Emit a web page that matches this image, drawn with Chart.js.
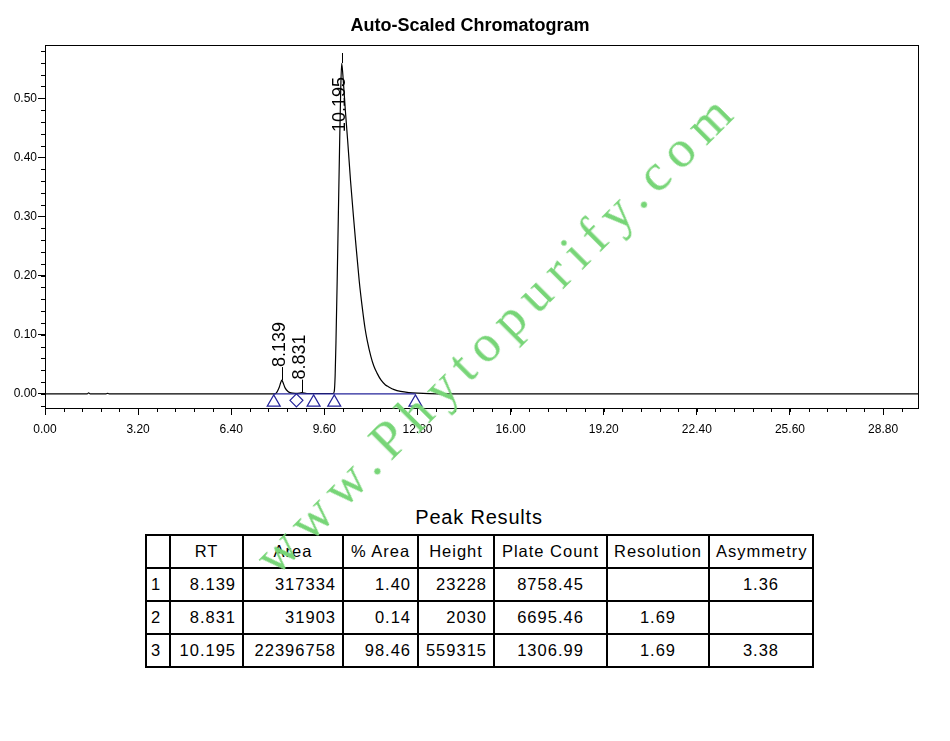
<!DOCTYPE html>
<html>
<head>
<meta charset="utf-8">
<script src="https://cdn.jsdelivr.net/npm/chart.js@4.4.1/dist/chart.umd.min.js"></script>
<style>
  body { margin: 0; background: #fff; width: 950px; height: 741px; position: relative; overflow: hidden; font-family: "Liberation Sans", Arial, sans-serif; color: #000; }
  #wrap { position: absolute; left: 0; top: 0; width: 950px; height: 450px; }
  #chartTitle { position: absolute; left: 0; width: 940px; top: 15px; text-align: center; font-size: 18px; font-weight: bold; }
  #tableTitle { position: absolute; left: 0; width: 958px; top: 506px; text-align: center; font-size: 20px; letter-spacing: 0.8px; }
  #peaks { position: absolute; left: 145px; top: 534px; border-collapse: collapse; table-layout: fixed; width: 667px; font-size: 16.5px; letter-spacing: 1px; }
  #peaks td, #peaks th { border: 2px solid #000; padding: 0 6px; height: 31px; font-weight: normal; white-space: nowrap; overflow: hidden; }
  #peaks th { text-align: center; }
  #peaks td.r { text-align: right; }
  #peaks td.c { text-align: center; }
  #peaks td.l { text-align: left; padding-left: 4px; }
  #watermark { position: absolute; left: 496px; top: 331px; transform: translate(-50%, -50%) rotate(-45deg); font-family: "Liberation Serif", "DejaVu Serif", serif; font-size: 53px; letter-spacing: 9.5px; color: #77d577; white-space: nowrap; pointer-events: none; }
</style>
</head>
<body>
<div id="wrap"><canvas id="chrom" width="950" height="450"></canvas></div>
<div id="chartTitle">Auto-Scaled Chromatogram</div>
<div id="tableTitle">Peak Results</div>
<table id="peaks">
  <colgroup>
    <col style="width:24px"><col style="width:73px"><col style="width:100px"><col style="width:75px">
    <col style="width:76px"><col style="width:113px"><col style="width:102px"><col style="width:104px">
  </colgroup>
  <thead><tr id="headRow"></tr></thead>
  <tbody id="peakBody"></tbody>
</table>
<div id="watermark">www.Phytopurify.com</div>

<script>
// chromatogram trace (minutes / AU)
const timeMin = [0, 1.45, 1.5, 1.55, 2.1, 2.15, 2.2,
  7.9, 7.97, 8.05, 8.1, 8.139, 8.18, 8.25, 8.35, 8.45, 8.6, 8.75, 8.831, 8.9, 9.0,
  9.9, 9.94, 9.97, 10.0, 10.04, 10.08, 10.12, 10.16, 10.195,
  10.25, 10.32, 10.4, 10.5, 10.6, 10.67, 10.8, 10.9, 11.0, 11.07,
  11.2, 11.3, 11.41, 11.55, 11.7, 11.8, 12.0, 12.22, 12.5, 12.8,
  13.5, 30];
const absAU = [0, 0, 0.0015, 0, 0, 0.0008, 0,
  0, 0.003, 0.011, 0.019, 0.0232, 0.019, 0.010, 0.004, 0.0015, 0.0008, 0.0012, 0.002, 0.0012, 0.0005,
  0.0005, 0.004, 0.03, 0.09, 0.19, 0.30, 0.41, 0.51, 0.559,
  0.53, 0.48, 0.429, 0.36, 0.30, 0.26, 0.19, 0.147, 0.11, 0.091,
  0.063, 0.047, 0.035, 0.023, 0.015, 0.012, 0.007, 0.004, 0.002, 0.001,
  0, 0];

// integration marks
const baselineRt = [7.86, 12.73];
const triangleRt = [7.86, 9.23, 9.94, 12.73];
const diamondRt = [8.64];

// peak table
const tableHead = ['', 'RT', 'Area', '% Area', 'Height', 'Plate Count', 'Resolution', 'Asymmetry'];
const peakNo = ['1', '2', '3'];
const peakRt = ['8.139', '8.831', '10.195'];
const peakArea = ['317334', '31903', '22396758'];
const pctArea = ['1.40', '0.14', '98.46'];
const peakHeight = ['23228', '2030', '559315'];
const plateCount = ['8758.45', '6695.46', '1306.99'];
const resolution = ['', '1.69', '1.69'];
const asymmetry = ['1.36', '', '3.38'];

// axes
const xMin = 0, xMax = 30, xStep = 3.2, xMinor = 0.64;
const yMin = -0.024, yMax = 0.59, yStep = 0.1, yMinor = 0.02;

// build table
const headRow = document.getElementById('headRow');
tableHead.forEach(h => {
  const th = document.createElement('th');
  th.textContent = h;
  headRow.appendChild(th);
});
const body = document.getElementById('peakBody');
peakNo.forEach((n, i) => {
  const tr = document.createElement('tr');
  const cells = [[n, 'l'], [peakRt[i], 'r'], [peakArea[i], 'r'], [pctArea[i], 'r'], [peakHeight[i], 'r'],
    [plateCount[i], 'c'], [resolution[i], 'c'], [asymmetry[i], 'c']];
  cells.forEach(([txt, cls]) => {
    const td = document.createElement('td');
    td.className = cls;
    td.textContent = txt;
    tr.appendChild(td);
  });
  body.appendChild(tr);
});

const navy = '#24249a';

const chromPlugin = {
  id: 'chromExtras',
  afterDatasetsDraw(chart) {
    const ctx = chart.ctx;
    const a = chart.chartArea;
    const xs = chart.scales.x, ys = chart.scales.y;
    ctx.save();
    // frame
    ctx.strokeStyle = '#000';
    ctx.lineWidth = 1;
    ctx.strokeRect(Math.round(a.left) + 0.5, Math.round(a.top) + 0.5, Math.round(a.right - a.left), Math.round(a.bottom - a.top));
    // minor ticks
    ctx.beginPath();
    for (let i = 0; xMin + i * xMinor <= xMax; i++) {
      const px = Math.round(xs.getPixelForValue(xMin + i * xMinor)) + 0.5;
      ctx.moveTo(px, a.bottom);
      ctx.lineTo(px, a.bottom + 4);
    }
    for (let i = -1; i * yMinor <= yMax; i++) {
      const py = Math.round(ys.getPixelForValue(i * yMinor)) + 0.5;
      ctx.moveTo(a.left, py);
      ctx.lineTo(a.left - 4, py);
    }
    ctx.stroke();
    // peak labels
    ctx.font = '18px "Liberation Sans", Arial, sans-serif';
    ctx.fillStyle = '#000';
    peakRt.forEach((rt, i) => {
      const px = Math.round(xs.getPixelForValue(+rt)) + 0.5;
      const apex = ys.getPixelForValue(+peakHeight[i] / 1e6);
      const w = ctx.measureText(rt).width;
      let start = apex - 13;
      ctx.beginPath();
      if (start - w < a.top) {
        ctx.moveTo(px, apex);
        ctx.lineTo(px, a.top + 8);
        ctx.stroke();
        start = a.top + 32 + w;
      } else {
        ctx.moveTo(px, apex);
        ctx.lineTo(px, start);
        ctx.stroke();
      }
      ctx.save();
      ctx.translate(px - 2, start);
      ctx.rotate(-Math.PI / 2);
      ctx.textAlign = 'left';
      ctx.textBaseline = 'middle';
      ctx.fillText(rt, 0, 0);
      ctx.restore();
    });
    ctx.restore();
  }
};

const tickFont = { family: '"Liberation Sans", Arial, sans-serif', size: 12 };

new Chart(document.getElementById('chrom'), {
  type: 'line',
  data: {
    datasets: [
      {
        data: baselineRt.map(t => ({ x: t, y: 0 })),
        borderColor: navy, borderWidth: 1.2, pointRadius: 0
      },
      {
        data: triangleRt.map(t => ({ x: t, y: -0.0145 })),
        showLine: false, pointStyle: 'triangle', pointRadius: 7.5,
        borderColor: navy, borderWidth: 1.2, backgroundColor: 'rgba(0,0,0,0)'
      },
      {
        data: diamondRt.map(t => ({ x: t, y: -0.011 })),
        showLine: false, pointStyle: 'rectRot', pointRadius: 6.5,
        borderColor: navy, borderWidth: 1.2, backgroundColor: 'rgba(0,0,0,0)'
      },
      {
        data: timeMin.map((t, i) => ({ x: t, y: absAU[i] })),
        borderColor: '#000', borderWidth: 1.2, pointRadius: 0,
        cubicInterpolationMode: 'monotone'
      }
    ]
  },
  options: {
    responsive: false,
    animation: false,
    layout: { padding: { left: 0, right: 32, top: 45, bottom: 0 } },
    plugins: {
      legend: { display: false },
      tooltip: { enabled: false },
      title: { display: false }
    },
    scales: {
      x: {
        type: 'linear', min: xMin, max: xMax,
        border: { display: false },
        grid: { drawOnChartArea: false, drawTicks: true, tickLength: 7, color: '#000' },
        ticks: {
          stepSize: xStep, includeBounds: false, autoSkip: false, maxRotation: 0,
          color: '#000', font: tickFont, padding: 7,
          callback: v => v.toFixed(2)
        },
        afterFit: s => { s.height = 42; }
      },
      y: {
        type: 'linear', min: yMin, max: yMax,
        border: { display: false },
        grid: { drawOnChartArea: false, drawTicks: true, tickLength: 7, color: '#000' },
        ticks: {
          stepSize: yStep, includeBounds: false, autoSkip: false,
          color: '#000', font: tickFont, padding: 1,
          callback: v => v.toFixed(2)
        },
        afterFit: s => { s.width = 45; }
      }
    }
  },
  plugins: [chromPlugin]
});
</script>
</body>
</html>
